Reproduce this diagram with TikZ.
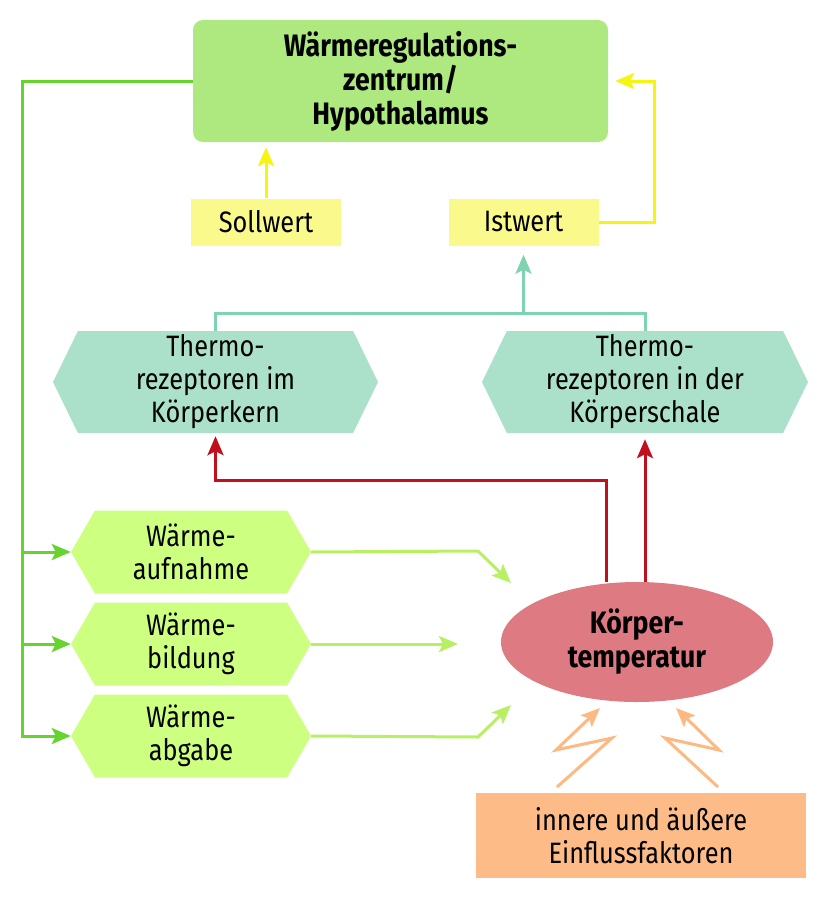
\documentclass[tikz,border=0pt]{standalone}
\usepackage{fontspec}
\setmainfont[FakeStretch=0.86]{Fira Sans}
\usepackage{tikz}
\usetikzlibrary{shapes.symbols,shapes.geometric,arrows.meta}
\definecolor{hypogreen}{RGB}{173,233,126}
\definecolor{busgreen}{RGB}{102,212,46}
\definecolor{wgreen}{RGB}{205,255,128}
\definecolor{wgreenline}{RGB}{184,240,100}
\definecolor{sollyellow}{RGB}{250,250,140}
\definecolor{yellowline}{RGB}{245,245,20}
\definecolor{thermo}{RGB}{171,225,202}
\definecolor{thermoline}{RGB}{126,211,176}
\definecolor{tempred}{RGB}{192,16,30}
\definecolor{temprose}{RGB}{221,122,130}
\definecolor{faktorbox}{RGB}{253,188,135}
\definecolor{faktorline}{RGB}{253,185,130}
\tikzset{
	txt/.style={font=\fontsize{29.5}{33}\selectfont, align=center, inner sep=0pt},
	boldtxt/.style={txt, font=\fontsize{31}{34}\selectfont\bfseries},
	hexa/.style={txt, signal, signal to=east and west},
	tip/.style={-{Stealth[length=19pt,width=16pt,inset=4pt]}},
	conn/.style={line width=3pt},
}

\begin{document}
\begin{tikzpicture}[x=1pt, y=-1pt]
			%%%%% START %%%%%
			\useasboundingbox (0,0) rectangle (828,900);
			
			\node[boldtxt, fill=hypogreen, rounded corners=10pt, minimum width=415pt, minimum height=122pt] (hypo) at (400.5,81) {Wärmeregulations-\\zentrum/\\Hypothalamus};
			
			\node[txt, fill=sollyellow, minimum width=150pt, minimum height=47pt] (soll) at (266,222) {Sollwert};
			\node[txt, fill=sollyellow, minimum width=150pt, minimum height=47pt] (ist) at (523.5,222) {Istwert};
			
			\node[hexa, fill=thermo, signal pointer angle=128, minimum width=325pt, minimum height=102pt] (tk) at (215.5,382) {Thermo-\\rezeptoren im\\Körperkern};
			\node[hexa, fill=thermo, signal pointer angle=128, minimum width=326pt, minimum height=102pt] (ts) at (645,382) {Thermo-\\rezeptoren in der\\Körperschale};
			
			\node[hexa, fill=wgreen, signal pointer angle=120, minimum width=240pt, minimum height=83pt] (auf) at (191,552) {Wärme-\\aufnahme};
			\node[hexa, fill=wgreen, signal pointer angle=120, minimum width=240pt, minimum height=83pt] (bild) at (191,644) {Wärme-\\bildung};
			\node[hexa, fill=wgreen, signal pointer angle=120, minimum width=240pt, minimum height=83pt] (abg) at (191,736) {Wärme-\\abgabe};
			
			\node[boldtxt, ellipse, fill=temprose, minimum width=272pt, minimum height=120pt] (koerper) at (637,642) {Körper-\\temperatur};
			
			\node[txt, fill=faktorbox, minimum width=330pt, minimum height=85pt] (faktor) at (641,835.5) {innere und äußere\\Einflussfaktoren};
			
			% Regelzentrum -> Effektoren
			\coordinate (bus) at (22,81);
			\draw[conn, busgreen, tip] (hypo.west) -- (bus) |- (abg.west);
			\draw[conn, busgreen, tip] (bus |- auf.west) -- (auf.west);
			\draw[conn, busgreen, tip] (bus |- bild.west) -- (bild.west);
			
			% Soll- und Istwert
			\draw[conn, yellowline, tip, shorten >=5pt] (soll.north) -- (soll.north |- hypo.south);
			\draw[conn, yellowline, tip, shorten >=7pt] (ist.east) -- ++(56,0) |- (hypo.east);
			
			% Thermorezeptoren -> Istwert
			\coordinate (tjoin) at (523.5,313);
			\draw[conn, thermoline] (tk.north) |- (tjoin) -| (ts.north);
			\draw[conn, thermoline, tip, shorten >=9pt] (tjoin) -- (ist.south);
			
			% Koerpertemperatur -> Thermorezeptoren
			\coordinate (rknee) at (606,480);
			\draw[conn, tempred, tip, shorten >=3pt] (rknee |- koerper.north) -- (rknee) -| (tk.south);
			\draw[conn, tempred, tip, shorten >=6pt] (ts.south |- koerper.north) -- (ts.south);
			
			% Effektoren -> Koerpertemperatur
			\coordinate (aufbend) at (478,551);
			\coordinate (aufend) at (511,583);
			\draw[conn, wgreenline, tip] (auf.east) -- (aufbend) -- (aufend);
			\coordinate (bildend) at (458,644);
			\draw[conn, wgreenline, tip] (bild.east) -- (bildend);
			\coordinate (abgbend) at (478,737);
			\coordinate (abgend) at (511,705);
			\draw[conn, wgreenline, tip] (abg.east) -- (abgbend) -- (abgend);
			
			% Einflussfaktoren (Blitze)
			\draw[conn, faktorline, tip] (557,787) -- (612,738) -- (556,750) -- (600,708);
			\draw[conn, faktorline, tip] (718,787) -- (665,738) -- (719,750) -- (676,708);
			
			%%%%% END %%%%%
		\end{tikzpicture}
\end{document}
